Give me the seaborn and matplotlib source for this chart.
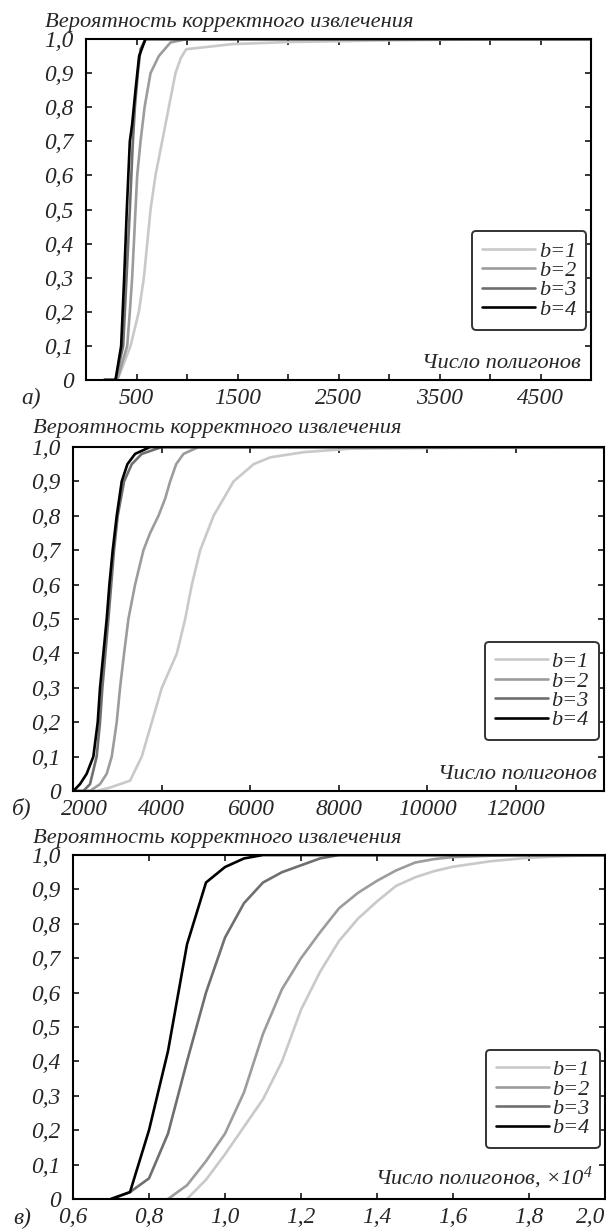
import matplotlib
import pandas as pd
import seaborn as sns

matplotlib.use("Agg")
import matplotlib.pyplot as plt  # noqa: E402
from matplotlib.ticker import FixedLocator, FuncFormatter  # noqa: E402
from matplotlib.transforms import ScaledTranslation  # noqa: E402

SERIES = ["b=1", "b=2", "b=3", "b=4"]
COLORS = ["#c9c9c9", "#9c9c9c", "#6f6f6f", "#000000"]
Y_LABEL = "Вероятность корректного извлечения"
Y_TICKS = [0.0, 0.1, 0.2, 0.3, 0.4, 0.5, 0.6, 0.7, 0.8, 0.9, 1.0]

# panel а)
a_x = [
    [180, 300, 325, 441, 523, 573, 606, 639, 688, 754, 820, 886, 940, 992, 1450, 2000, 3000, 4000, 5000],
    [180, 308, 408, 434, 457, 474, 490, 507, 540, 580, 639, 721, 837, 1002, 5000],
    [180, 292, 368, 401, 434, 464, 484, 513, 540, 589, 5000],
    [180, 292, 348, 378, 404, 434, 457, 490, 526, 589, 5000],
]
a_y = [
    [0, 0, 0.01, 0.1, 0.2, 0.3, 0.4, 0.5, 0.6, 0.7, 0.8, 0.9, 0.945, 0.97, 0.985, 0.991, 0.996, 0.999, 1.0],
    [0, 0, 0.1, 0.2, 0.3, 0.4, 0.5, 0.6, 0.7, 0.8, 0.9, 0.95, 0.99, 1.0, 1.0],
    [0, 0, 0.1, 0.3, 0.5, 0.7, 0.8, 0.9, 0.97, 1.0, 1.0],
    [0, 0, 0.1, 0.3, 0.5, 0.7, 0.75, 0.85, 0.95, 1.0, 1.0],
]
a_xticks = [500, 1500, 2500, 3500, 4500]
a_xminor = [1000, 2000, 3000, 4000]

# panel б)
b_x = [
    [2000, 2526, 2829, 3055, 3282, 3546, 3773, 4000, 4340, 4528, 4679, 4868, 5170, 5623, 6075, 6453, 7208, 8265, 13000],
    [2000, 2376, 2602, 2753, 2867, 2980, 3055, 3146, 3244, 3395, 3584, 3735, 3924, 4075, 4188, 4324, 4490, 4830, 14000],
    [2000, 2225, 2376, 2526, 2602, 2655, 2791, 2919, 3002, 3146, 3320, 3546, 4000, 14000],
    [2000, 2149, 2300, 2451, 2550, 2602, 2678, 2753, 2814, 2889, 2980, 3093, 3221, 3395, 3735, 14000],
]
b_y = [
    [0, 0, 0.01, 0.02, 0.03, 0.1, 0.2, 0.3, 0.4, 0.5, 0.6, 0.7, 0.8, 0.9, 0.95, 0.97, 0.985, 0.995, 1.0],
    [0, 0, 0.02, 0.05, 0.1, 0.2, 0.3, 0.4, 0.5, 0.6, 0.7, 0.75, 0.8, 0.85, 0.9, 0.95, 0.98, 1.0, 1.0],
    [0, 0, 0.02, 0.1, 0.2, 0.3, 0.5, 0.7, 0.8, 0.9, 0.95, 0.98, 1.0, 1.0],
    [0, 0.02, 0.05, 0.1, 0.2, 0.3, 0.4, 0.5, 0.6, 0.7, 0.8, 0.9, 0.95, 0.98, 1.0, 1.0],
]
b_xticks = [2000, 4000, 6000, 8000, 10000, 12000]

# panel в), x in units of 10^4
c_x = [
    [0.90, 0.95, 1.00, 1.05, 1.10, 1.15, 1.20, 1.25, 1.30, 1.35, 1.40, 1.45, 1.50, 1.55, 1.60, 1.70, 1.80, 1.90, 2.00],
    [0.85, 0.90, 0.95, 1.00, 1.05, 1.10, 1.15, 1.20, 1.25, 1.30, 1.35, 1.40, 1.45, 1.50, 1.55, 1.60, 1.70, 1.80, 2.00],
    [0.70, 0.75, 0.80, 0.85, 0.90, 0.95, 1.00, 1.05, 1.10, 1.15, 1.20, 1.25, 1.30, 2.00],
    [0.70, 0.75, 0.80, 0.85, 0.90, 0.95, 1.00, 1.05, 1.10, 2.00],
]
c_y = [
    [0, 0.056, 0.13, 0.21, 0.29, 0.40, 0.55, 0.66, 0.75, 0.815, 0.865, 0.91, 0.935, 0.953, 0.966, 0.982, 0.992, 0.997, 1.0],
    [0, 0.04, 0.11, 0.19, 0.31, 0.48, 0.61, 0.70, 0.775, 0.845, 0.89, 0.925, 0.955, 0.978, 0.988, 0.994, 0.998, 1.0, 1.0],
    [0, 0.02, 0.06, 0.19, 0.40, 0.60, 0.76, 0.86, 0.92, 0.95, 0.97, 0.99, 1.0, 1.0],
    [0, 0.02, 0.2, 0.43, 0.74, 0.92, 0.965, 0.99, 1.0, 1.0],
]
c_xticks = [0.6, 0.8, 1.0, 1.2, 1.4, 1.6, 1.8, 2.0]

W, H = 606, 1230
TICK_SIZE = 16.8
TEXT_SIZE = 16.2
LEGEND_SIZE = 16


def long_frame(xs, ys):
    parts = [pd.DataFrame({"x": x, "y": y, "b": name}) for name, x, y in zip(SERIES, xs, ys)]
    return pd.concat(parts, ignore_index=True)


def comma(v, _pos=None):
    return "0" if abs(v) < 1e-9 else f"{v:.1f}".replace(".", ",")


def draw_panel(ax, frame, *, xlim, xticks, xminor, xfmt, xlabel, xlabel_pos):
    sns.lineplot(
        data=frame, x="x", y="y", hue="b", hue_order=SERIES, palette=COLORS,
        sort=False, estimator=None, linewidth=1.9, ax=ax,
    )
    ax.set_xlim(*xlim)
    ax.set_ylim(0, 1.0)
    ax.set_xlabel("")
    ax.set_ylabel("")
    ax.xaxis.set_major_locator(FixedLocator(xticks))
    ax.xaxis.set_major_formatter(FuncFormatter(xfmt))
    if xminor:
        ax.xaxis.set_minor_locator(FixedLocator(xminor))
    ax.yaxis.set_major_locator(FixedLocator(Y_TICKS))
    ax.yaxis.set_major_formatter(FuncFormatter(comma))
    ax.tick_params(which="both", direction="in", length=4, width=1.1,
                   top=True, right=True, labelsize=TICK_SIZE, color="black")
    ax.tick_params(axis="x", pad=6)
    ax.tick_params(axis="y", pad=9)
    for side in ax.spines.values():
        side.set_visible(True)
        side.set_linewidth(1.5)
        side.set_color("black")
    ax.text(*xlabel_pos, xlabel, transform=ax.transAxes, ha="right", va="center",
            fontsize=TEXT_SIZE)
    leg = ax.legend(
        loc="lower right", bbox_to_anchor=(0.99, 0.147), borderaxespad=0,
        fontsize=LEGEND_SIZE, handlelength=2.4, handletextpad=0.15, labelspacing=-0.05,
        borderpad=0.45, fancybox=True, framealpha=1, edgecolor="#333333",
    )
    leg.get_frame().set_linewidth(1.4)


def px_box(left, right, top, bottom):
    return [left / W, 1 - bottom / H, (right - left) / W, (bottom - top) / H]


sns.set_style("ticks")
plt.rcParams["font.family"] = ["Liberation Serif", "DejaVu Serif"]
plt.rcParams["font.style"] = "italic"
plt.rcParams["mathtext.fontset"] = "custom"
plt.rcParams["mathtext.rm"] = "Liberation Serif:italic"
plt.rcParams["mathtext.it"] = "Liberation Serif:italic"

fig = plt.figure(figsize=(W / 100, H / 100), dpi=100)

ax_a = fig.add_axes(px_box(86, 591, 39, 380))
draw_panel(ax_a, long_frame(a_x, a_y), xlim=(0, 5000), xticks=a_xticks, xminor=a_xminor,
           xfmt=lambda v, p: f"{v:.0f}", xlabel="Число полигонов", xlabel_pos=(0.98, 0.047))

ax_b = fig.add_axes(px_box(73.4, 604, 447, 791))
draw_panel(ax_b, long_frame(b_x, b_y), xlim=(2000, 14000), xticks=b_xticks, xminor=None,
           xfmt=lambda v, p: f"{v:.0f}", xlabel="Число полигонов", xlabel_pos=(0.987, 0.049))
# the first label sits a little right of its tick, clear of the "0"
first = ax_b.xaxis.get_major_ticks()[0].label1
first.set_transform(first.get_transform() + ScaledTranslation(0.11, 0, fig.dpi_scale_trans))

ax_c = fig.add_axes(px_box(73, 605, 855, 1199))
draw_panel(ax_c, long_frame(c_x, c_y), xlim=(0.6, 2.0), xticks=c_xticks, xminor=None,
           xfmt=comma, xlabel="Число полигонов, ×$10^{4}$", xlabel_pos=(0.977, 0.061))
ax_c.get_xticklabels()[-1].set_horizontalalignment("right")

for ylab_x, ylab_y in [(45, 22), (33, 429), (33, 839)]:
    fig.text(ylab_x / W, 1 - ylab_y / H, Y_LABEL, ha="left", va="center", fontsize=TEXT_SIZE)

for letter, lx, ly in [("а)", 31, 398), ("б)", 22, 808), ("в)", 22, 1218)]:
    fig.text(lx / W, 1 - ly / H, letter, ha="center", va="center", fontsize=TICK_SIZE)

fig.savefig("out.png", dpi=100)
